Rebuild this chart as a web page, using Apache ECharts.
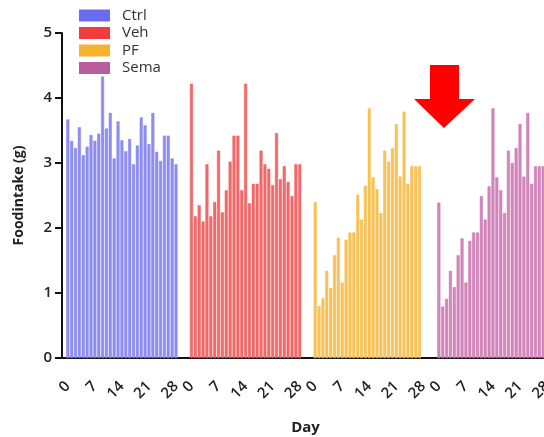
<!DOCTYPE html>
<html>
<head>
<meta charset="utf-8">
<script src="https://cdn.jsdelivr.net/npm/echarts@6/dist/echarts.min.js"></script>
<style>html,body{margin:0;padding:0;background:#fff}#c{width:544px;height:437px}</style>
</head>
<body>
<div id="c"></div>
<script>
const groups = ['Ctrl', 'Veh', 'PF', 'Sema'];
const days = [0,1,2,3,4,5,6,7,8,9,10,11,12,13,14,15,16,17,18,19,20,21,22,23,24,25,26,27,28];
const tickDays = [0, 7, 14, 21, 28];
const yTicks = [0, 1, 2, 3, 4, 5];
const ctrl = [3.67,3.34,3.23,3.55,3.12,3.25,3.43,3.34,3.45,4.33,3.53,3.77,3.07,3.64,3.35,3.18,3.37,2.98,3.27,3.70,3.58,3.29,3.77,3.17,3.03,3.42,3.42,3.07,2.98];
const veh  = [4.22,2.18,2.35,2.10,2.98,2.18,2.40,3.19,2.24,2.58,3.02,3.42,3.42,2.58,4.22,2.38,2.68,2.68,3.19,2.98,2.91,2.66,3.46,2.75,2.95,2.71,2.49,2.98,2.98];
const pf   = [2.40,0.80,0.92,1.34,1.08,1.58,1.85,1.16,1.82,1.93,1.93,2.51,2.13,2.65,3.84,2.78,2.60,2.23,3.19,3.02,3.23,3.60,2.79,3.79,2.68,2.95,2.95,2.95,null];
const sema = [2.39,0.79,0.91,1.34,1.09,1.58,1.84,1.16,1.80,1.93,1.93,2.49,2.13,2.64,3.84,2.78,2.58,2.23,3.19,3.00,3.23,3.60,2.79,3.77,2.68,2.95,2.95,2.95,null];
const values = [ctrl, veh, pf, sema];
const barColors = ['#8e8ef2', '#f26a6a', '#f8c358', '#d586bd'];
const edgeColors = ['#7a7aee', '#e85454', '#f4b640', '#c26aa6'];
const legendColors = ['#6b6bf0', '#f03c3c', '#f8b232', '#b95d9c'];
const gapCats = 3;

// build category axis
const cats = ['pad'];
const idxOf = [];
groups.forEach((g, gi) => {
  idxOf.push(cats.length);
  days.forEach(d => cats.push(g + '|' + d));
  if (gi < groups.length - 1) for (let k = 0; k < gapCats; k++) cats.push('gap' + gi + '_' + k);
});
const isTick = (v) => {
  const p = String(v).split('|');
  return p.length === 2 && tickDays.includes(+p[1]);
};
const series = groups.map((g, gi) => {
  const arr = new Array(cats.length).fill(null);
  values[gi].forEach((v, di) => { arr[idxOf[gi] + di] = v; });
  return {
    name: g, type: 'bar', data: arr, barWidth: 3, barGap: '-100%',
    itemStyle: { color: barColors[gi], borderColor: edgeColors[gi], borderWidth: 0.4 },
    silent: true, animation: false
  };
});

const chart = echarts.init(document.getElementById('c'), null, { renderer: 'canvas' });
chart.setOption({
  animation: false,
  backgroundColor: '#ffffff',
  legend: {
    orient: 'vertical', left: 74, top: 3,
    itemWidth: 31, itemHeight: 12, itemGap: 2.5,
    icon: 'rect',
    textStyle: { fontFamily: 'Open Sans', fontSize: 15, color: '#333', padding: [0, 0, 0, 7] },
    data: groups.map((g, gi) => ({ name: g, itemStyle: { color: legendColors[gi], borderWidth: 0 } }))
  },
  grid: { left: 62, top: 33, bottom: 79, right: -5, containLabel: false, outerBoundsMode: 'none' },
  xAxis: {
    type: 'category', data: cats, boundaryGap: true,
    name: 'Day', nameLocation: 'middle', nameGap: 62,
    nameTextStyle: { fontFamily: 'Open Sans', fontSize: 15, fontWeight: 'bold', color: '#222' },
    axisLine: { lineStyle: { color: '#111', width: 2 } },
    axisTick: { alignWithLabel: true, length: 7, interval: (i, v) => isTick(v), lineStyle: { color: '#111', width: 2 } },
    axisLabel: {
      interval: (i, v) => isTick(v), rotate: 45, margin: 26, hideOverlap: false,
      formatter: (v) => String(v).split('|')[1] || '',
      fontFamily: 'Open Sans', fontSize: 15, fontWeight: 600, color: '#222'
    }
  },
  yAxis: {
    type: 'value', min: yTicks[0], max: yTicks[yTicks.length - 1], interval: 1,
    name: 'Foodintake (g)', nameLocation: 'middle', nameGap: 36,
    nameTextStyle: { fontFamily: 'Open Sans', fontSize: 14, fontWeight: 'bold', color: '#222' },
    axisLine: { show: true, lineStyle: { color: '#111', width: 2 } },
    axisTick: { show: true, length: 7, lineStyle: { color: '#111', width: 2 } },
    axisLabel: { fontFamily: 'Open Sans', fontSize: 15, fontWeight: 600, color: '#222', margin: 10 },
    splitLine: { show: false }
  },
  graphic: [{
    type: 'polygon', silent: true,
    shape: { points: [[430,65],[459,65],[459,99],[475,99],[444,128],[414,99],[430,99]] },
    style: { fill: '#ff0000' }
  }],
  series: series
});
</script>
</body>
</html>
